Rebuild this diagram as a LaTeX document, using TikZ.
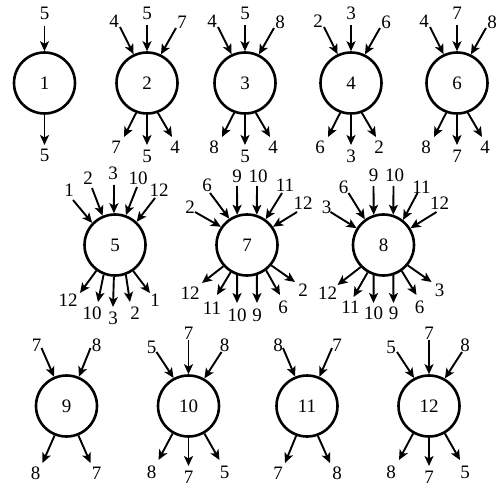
\documentclass[tikz,border=0pt]{standalone}
\usepackage{fontspec}
\setmainfont{Liberation Serif}
\usetikzlibrary{arrows.meta}
\newcommand\gvert[6]{%
  \node[vert] (#1) at (#2,#3) {#4};
  \foreach \txt/\lx/\ly/\ax/\ay/\an [count=\i] in {#5}{%
    \node[lab] (#1i\i) at ({#2+\lx},{#3+\ly}) {\txt};
    \coordinate (#1s\i) at ({#2+\ax},{#3+\ay});
    \draw[arr] (#1s\i) -- (#1.\an);
  }%
  \foreach \txt/\lx/\ly/\ax/\ay/\an [count=\i] in {#6}{%
    \node[lab] (#1o\i) at ({#2+\lx},{#3+\ly}) {\txt};
    \coordinate (#1e\i) at ({#2+\ax},{#3+\ay});
    \draw[arr] (#1.\an) -- (#1e\i);
  }%
}
\begin{document}
\begin{tikzpicture}[x=1pt,y=-1pt,
  vert/.style={circle,draw,line width=2.6pt,minimum size=61pt,inner sep=0pt,font=\fontsize{19}{19}\selectfont},
  lab/.style={inner sep=1pt,font=\fontsize{19}{19}\selectfont},
  arr/.style={-{Stealth[length=10pt,width=9pt,inset=2.5pt]},line width=1.9pt}]
\useasboundingbox[fill=white] (0,0) rectangle (503,486);
% row 1
\gvert{v1}{44.5}{83}{1}{5/0/-70/0/-57/90}{5/0/72/0/62/270}
\gvert{v2}{147}{83}{2}{4/-33/-62/-27/-56/115, 5/0/-70/0/-58/90, 7/35/-61/29/-55/64}{7/-31/64/-23/54/250, 5/0/73/0/62/270, 4/28/64/25/54/290}
\gvert{v3}{245}{83}{3}{4/-33/-62/-27/-56/115, 5/0/-70/0/-58/90, 8/35/-61/29/-55/64}{8/-31/64/-23/54/250, 5/0/73/0/62/270, 4/28/64/25/54/290}
\gvert{v4}{351}{83}{4}{2/-33/-62/-27/-56/115, 3/0/-70/0/-58/90, 6/35/-61/29/-55/64}{6/-31/64/-23/54/250, 3/0/73/0/62/270, 2/28/64/25/54/290}
\gvert{v6}{457}{83}{6}{4/-33/-62/-27/-56/115, 7/0/-70/0/-58/90, 8/35/-61/29/-55/64}{8/-31/64/-23/54/250, 7/0/73/0/62/270, 4/28/64/25/54/290}
% row 2
\gvert{v5}{115}{245}{5}{1/-46/-55/-42/-45/136, 2/-27/-67/-23/-57/113, 3/-2/-72/-1/-60/92, 10/23/-67/22/-58/70, 12/44/-55/40/-47/47}{12/-47/55/-35/48/234, 10/-23/68/-17/57/249, 3/-2/73/-2/62/268, 2/20/68/15/57/290, 1/40/55/35/48/305}
\gvert{v7}{247}{245}{7}{2/-57/-38/-52/-33/145, 6/-40/-60/-37/-52/124, 9/-10/-69/-10/-59/108, 10/11/-69/10/-59/72, 11/38/-60/35/-52/54, 12/56/-42/50/-33/35}{12/-57/48/-45/38/222, 11/-35/63/-30/50/239, 10/-10/70/-10/58/252, 9/10/70/10/58/288, 6/36/62/33/50/307, 2/56/45/48/37/320}
\gvert{v8}{383.5}{245}{8}{3/-57/-38/-53/-33/148, 6/-40/-58/-35/-52/126, 9/-10/-70/-10/-59/108, 10/11/-70/10/-59/72, 11/38/-58/34/-52/52, 12/56/-42/53/-33/32}{12/-56/48/-46/40/224, 11/-33/62/-30/52/240, 10/-10/68/-10/58/252, 9/10/68/10/58/288, 6/36/62/33/50/305, 3/56/45/48/37/320}
% row 3
\gvert{v9}{66.5}{406}{9}{7/-30/-61/-25/-58/113, 8/30/-61/24/-58/67}{8/-31/67/-24/57/248, 7/30/67/24/57/292}
\gvert{v10}{188.5}{406}{10}{5/-37/-59/-32/-54/118, 7/0/-73/0/-66/90, 8/36/-61/33/-54/60}{8/-37/66/-30/54/240, 7/0/71/0/60/270, 5/36/66/31/54/300}
\gvert{v11}{307}{406}{11}{8/-29/-61/-24/-58/112, 7/30/-61/25/-58/67}{7/-29/67/-22/57/250, 8/30/67/23/57/290}
\gvert{v12}{429}{406}{12}{5/-38/-59/-32/-54/118, 7/0/-73/0/-66/90, 8/36/-61/33/-54/60}{8/-38/66/-30/54/240, 7/0/71/0/60/270, 5/36/66/31/54/300}
\end{tikzpicture}
\end{document}
